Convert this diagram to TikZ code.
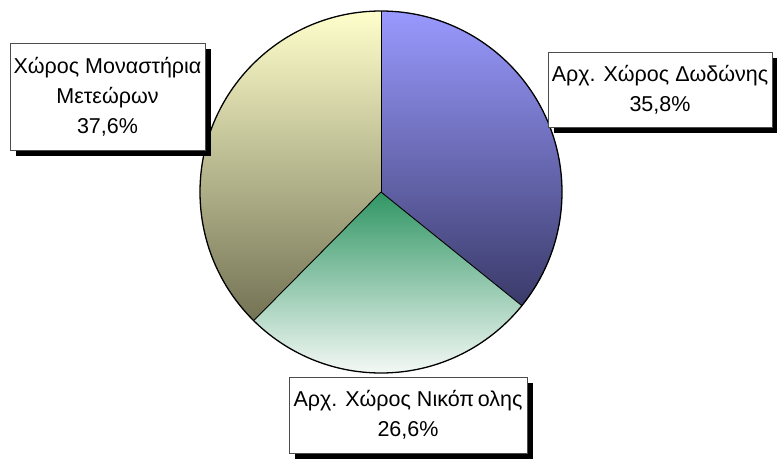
\documentclass[tikz,border=0pt]{standalone}
\usepackage{fontspec}
\setmainfont{Liberation Sans}
\usepackage{tikz}
\usetikzlibrary{shadows}
\definecolor{dodtop}{RGB}{153,153,255}
\definecolor{dodbot}{RGB}{58,58,105}
\definecolor{niktop}{RGB}{48,150,100}
\definecolor{nikbot}{RGB}{252,253,252}
\definecolor{mettop}{RGB}{255,255,204}
\definecolor{metbot}{RGB}{115,115,85}
\tikzset{labelbox/.style={draw=black!70,fill=white,align=center,inner sep=0pt,
  font=\fontsize{21.5}{30}\selectfont,
  drop shadow={shadow xshift=6pt,shadow yshift=-6pt,fill=black,opacity=1}}}

\begin{document}
\begin{tikzpicture}[x=1pt,y=1pt]
\useasboundingbox (0,0) rectangle (777,459);
\coordinate (O) at (381,267);
\shade[top color=dodtop,bottom color=dodbot] (O) -- ++(90:181) arc (90:-38.9:181) -- cycle;
\shade[top color=niktop,bottom color=nikbot] (O) -- ++(-38.9:181) arc (-38.9:-134.7:181) -- cycle;
\shade[top color=mettop,bottom color=metbot] (O) -- ++(-134.7:181) arc (-134.7:-270:181) -- cycle;
\draw[line width=1.3pt] (O) circle (181);
\draw[line width=0.9pt] (O) -- ++(90:181);
\draw[line width=0.9pt] (O) -- ++(-38.9:181);
\draw[line width=0.9pt] (O) -- ++(-134.7:181);
\node[labelbox,minimum width=195pt,minimum height=107pt] (met) at (107.5,362.5) {Χώρος Μοναστήρια\\Μετεώρων\\37,6\%};
\node[labelbox,minimum width=224pt,minimum height=75pt] (dod) at (660,369.5) {Αρχ. Χώρος Δωδώνης\\35,8\%};
\node[labelbox,minimum width=238pt,minimum height=76pt] (nik) at (408,44) {Αρχ. Χώρος Νικόπ\,ολης\\26,6\%};
\end{tikzpicture}
\end{document}
